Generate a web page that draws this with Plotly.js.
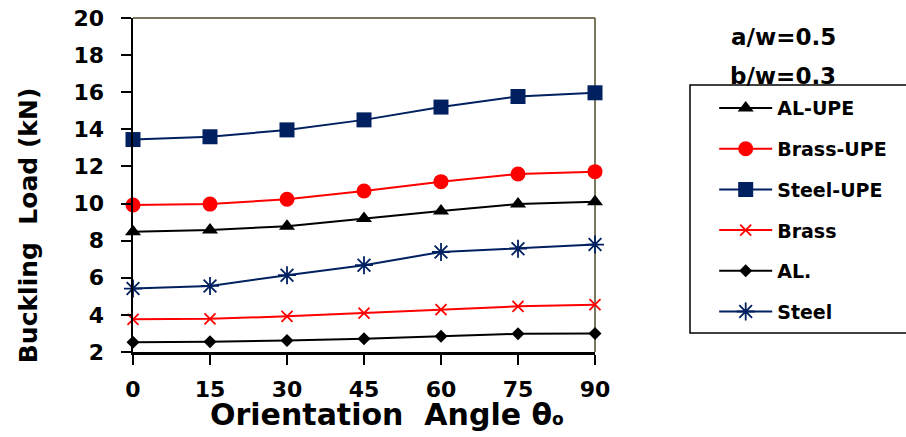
<!DOCTYPE html>
<html>
<head>
<meta charset="utf-8">
<script src="https://cdn.plot.ly/plotly-3.0.1.min.js"></script>
<style>html,body{margin:0;padding:0;background:#fff;}#chart{width:906px;height:437px;}</style>
</head>
<body>
<div id="chart"></div>
<script>
const angles = [0, 15, 30, 45, 60, 75, 90];
const alUpe = [8.48, 8.57, 8.78, 9.2, 9.6, 9.97, 10.1];
const brassUpe = [9.92, 9.97, 10.23, 10.68, 11.18, 11.59, 11.72];
const steelUpe = [13.45, 13.6, 13.97, 14.51, 15.2, 15.77, 15.97];
const brass = [3.76, 3.79, 3.92, 4.1, 4.28, 4.46, 4.55];
const al = [2.53, 2.55, 2.62, 2.71, 2.85, 2.98, 3.0];
const steel = [5.42, 5.56, 6.14, 6.68, 7.39, 7.57, 7.79];
const yTicks = [2, 4, 6, 8, 10, 12, 14, 16, 18, 20];
const seriesNames = ['AL-UPE', 'Brass-UPE', 'Steel-UPE', 'Brass', 'AL.', 'Steel'];

const RED = '#ff0000', NAVY = '#002060', BLACK = '#000000';
const FONT = '"DejaVu Sans", "Open Sans", sans-serif';
const f = (size) => ({family: FONT, size: size, color: '#000', weight: 'bold'});

function tr(i, y, color, symbol, size, mlw) {
  return {
    x: angles, y: y, name: '<b>' + seriesNames[i] + '</b>', type: 'scatter', mode: 'lines+markers',
    line: {color: color, width: 2},
    marker: {symbol: symbol, size: size, color: color, line: {color: color, width: mlw}},
    cliponaxis: false, legendgroup: 'g' + i
  };
}

const data = [
  tr(0, alUpe, BLACK, 'triangle-up', 14, 0),
  tr(1, brassUpe, RED, 'circle', 15, 0),
  tr(2, steelUpe, NAVY, 'square', 15, 0),
  tr(3, brass, RED, 'x-thin-open', 11, 1.8),
  tr(4, al, BLACK, 'diamond', 10, 0),
  tr(5, steel, NAVY, 'asterisk-open', 15, 1.8)
];

const layout = {
  width: 906, height: 437,
  margin: {l: 133, r: 311, t: 18, b: 85, autoexpand: false},
  paper_bgcolor: '#fff', plot_bgcolor: '#fff',
  font: f(14),
  showlegend: true,
  legend: {
    x: 1.258, xanchor: 'left', y: 0.787, yanchor: 'top',
    borderwidth: 0, bgcolor: 'rgba(255,255,255,0)',
    font: f(19),
    tracegroupgap: 13, traceorder: 'grouped', itemwidth: 53
  },
  xaxis: {
    range: [0, 90], tickvals: angles, ticktext: angles.map(v => '<b>' + v + '</b>'),
    ticks: 'outside', ticklen: 10, tickwidth: 2, tickcolor: '#000',
    showline: true, linecolor: '#000', linewidth: 2.5,
    showgrid: false, zeroline: false, ticklabelstandoff: 6,
    tickfont: f(22)
  },
  yaxis: {
    range: [2, 20], tickvals: yTicks, ticktext: yTicks.map(v => '<b>' + v + '</b>'),
    ticks: 'outside', ticklen: 10, tickwidth: 2, tickcolor: '#000',
    showline: true, linecolor: '#000', linewidth: 2.5,
    showgrid: false, zeroline: false, ticklabelstandoff: 12,
    tickfont: f(22)
  },
  shapes: [
    {type: 'line', xref: 'paper', yref: 'paper', x0: 0, x1: 1, y0: 1, y1: 1, line: {color: '#4f4a2a', width: 1.5}, layer: 'below'},
    {type: 'line', xref: 'paper', yref: 'paper', x0: 1, x1: 1, y0: 0, y1: 1, line: {color: '#4f4a2a', width: 1.5}, layer: 'below'},
    {type: 'rect', xref: 'paper', yref: 'paper', x0: 1.2056, x1: 1.75, y0: 0.0569, y1: 0.7994, line: {color: '#000', width: 1.5}, fillcolor: 'rgba(0,0,0,0)', layer: 'above'}
  ],
  annotations: [
    {text: '<b>Buckling  Load (kN)</b>', xref: 'paper', yref: 'paper', x: -0.227, y: 0.38, xanchor: 'center', yanchor: 'middle', textangle: -90, showarrow: false, font: f(25)},
    {text: '<b>Orientation  Angle θ</b><span style="font-size:17px"><b>o</b></span>', xref: 'paper', yref: 'paper', x: 0.55, y: -0.188, xanchor: 'center', yanchor: 'middle', showarrow: false, font: f(30)},
    {text: '<b>a/w=0.5</b>', xref: 'paper', yref: 'paper', x: 1.407, y: 0.943, xanchor: 'center', yanchor: 'middle', showarrow: false, font: f(23)},
    {text: '<b>b/w=0.3</b>', xref: 'paper', yref: 'paper', x: 1.407, y: 0.826, xanchor: 'center', yanchor: 'middle', showarrow: false, font: f(23)}
  ]
};

Plotly.newPlot('chart', data, layout, {displayModeBar: false, staticPlot: true});
</script>
</body>
</html>
